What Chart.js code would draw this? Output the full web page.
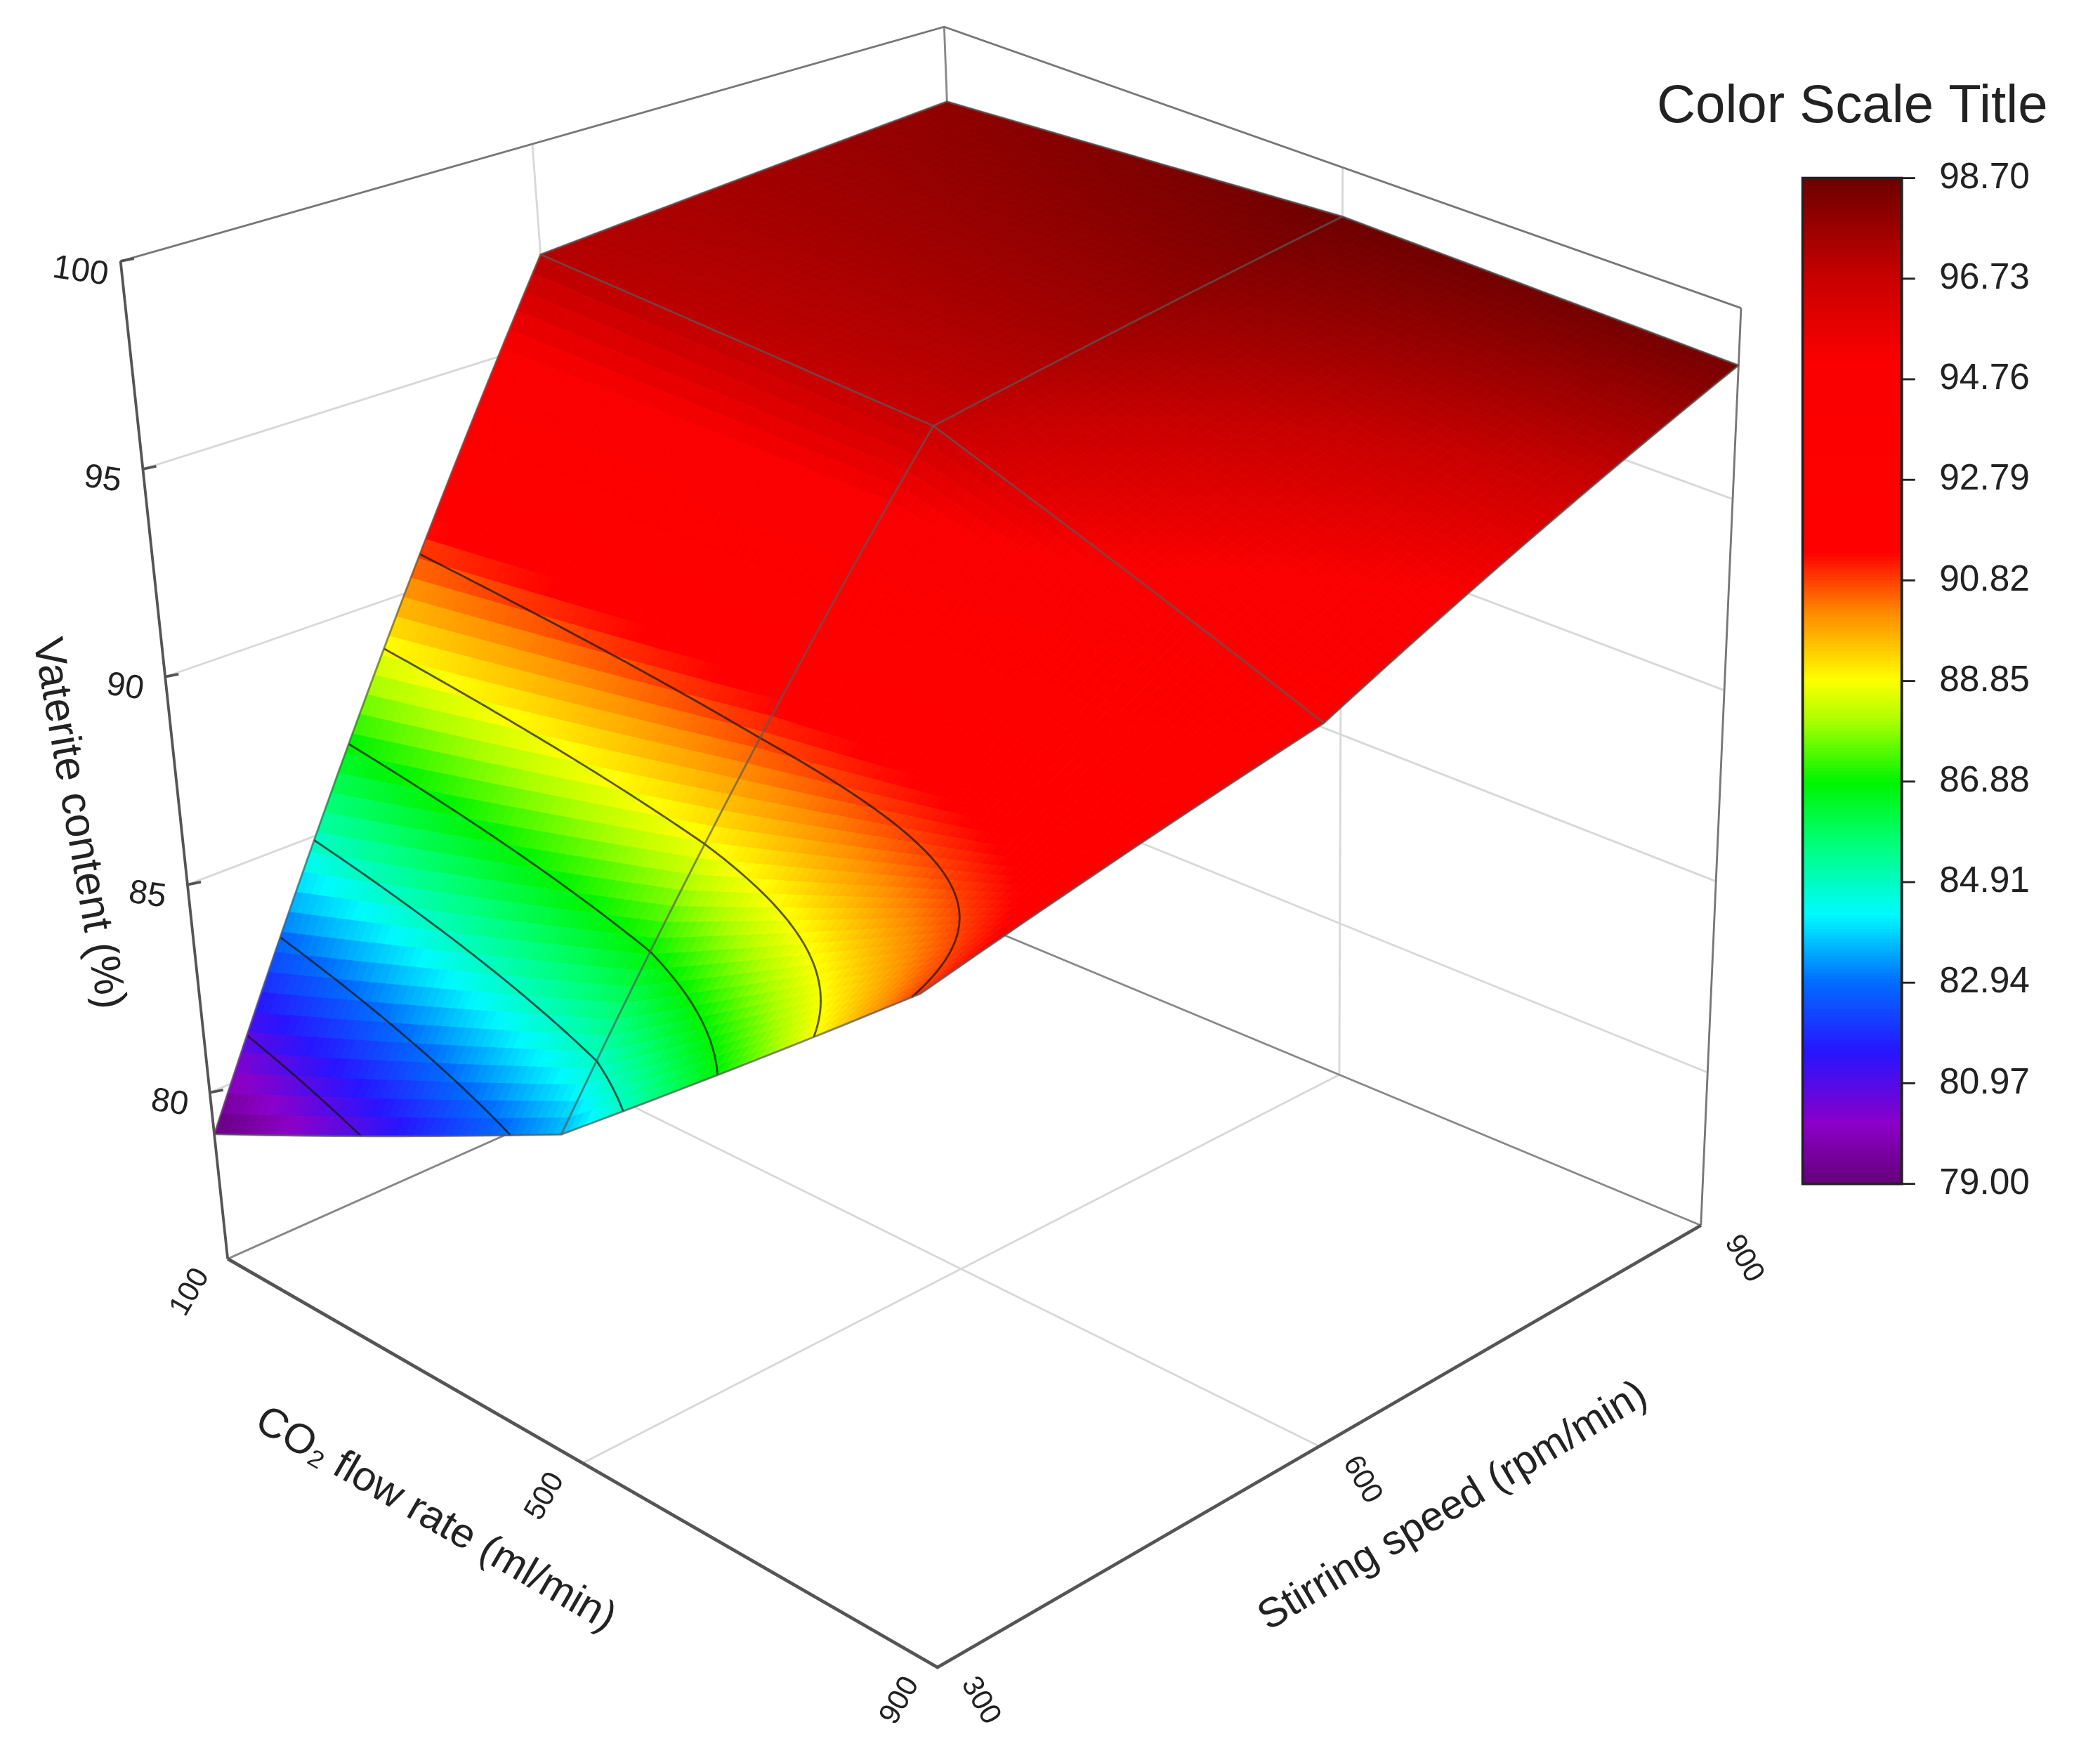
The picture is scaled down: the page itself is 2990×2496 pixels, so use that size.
<!DOCTYPE html>
<html><head><meta charset="utf-8">
<script src="https://cdn.jsdelivr.net/npm/chart.js@4"></script>
<style>html,body{margin:0;padding:0;background:#fff}#wrap{width:2990px;height:2496px}</style>
</head><body><div id="wrap"><canvas id="c" width="2990" height="2496"></canvas></div>
<script>
// ---- data ----
const co2Rates = [100, 500, 900];          // ml/min
const stirSpeeds = [300, 600, 900];        // rpm/min
const vaterite100 = [79.0, 97.2, 98.0];    // CO2=100 at stir 300,600,900
const vaterite500 = [83.6, 96.8, 98.7];
const vaterite900 = [91.0, 93.4, 98.5];
const zTicks = [80, 85, 90, 95, 100];
const cbarTicks = [98.70, 96.73, 94.76, 92.79, 90.82, 88.85, 86.88, 84.91, 82.94, 80.97, 79.00];
const contourLevels = [80.97, 82.94, 84.91, 86.88, 88.85, 90.82];

const grid = [vaterite100, vaterite500, vaterite900];
const ZMIN = 76, ZMAX = 100, CMIN = 79, CMAX = 98.7;
const F = {L:[170,940], B:[700,1245], R:[1270,915], K:[730,690]};
const T = {L:[90,195], B:[680,440], R:[1300,230], K:[705,20]};
function bil(Q,u,v){
  const a=Q.L,b=Q.B,c=Q.R,d=Q.K;
  return [ (1-u)*(1-v)*a[0]+u*(1-v)*b[0]+u*v*c[0]+(1-u)*v*d[0],
           (1-u)*(1-v)*a[1]+u*(1-v)*b[1]+u*v*c[1]+(1-u)*v*d[1] ];
}
function proj(u,v,z){ const f=bil(F,u,v), t=bil(T,u,v), s=(z-ZMIN)/(ZMAX-ZMIN);
  return [f[0]+(t[0]-f[0])*s, f[1]+(t[1]-f[1])*s]; }
function zAt(u,v){
  const gu=Math.min(u*2,1.999999), gv=Math.min(v*2,1.999999);
  const i=Math.floor(gu), j=Math.floor(gv), fu=gu-i, fv=gv-j;
  return grid[i][j]*(1-fu)*(1-fv)+grid[i+1][j]*fu*(1-fv)+grid[i][j+1]*(1-fu)*fv+grid[i+1][j+1]*fu*fv;
}
const stops=[[79,[100,0,120]],[80.2,[140,0,200]],[81.6,[40,20,255]],[83,[0,110,255]],[84.3,[0,250,255]],[85.7,[0,255,120]],[86.9,[0,245,0]],[88.1,[170,255,0]],[88.9,[255,255,0]],[90.2,[255,140,0]],[91.4,[255,0,0]],[95.2,[250,0,0]],[96.8,[200,0,0]],[98.7,[110,0,0]]];
function cmap(z){ if(z<=stops[0][0]) return stops[0][1];
  for(let k=1;k<stops.length;k++){ if(z<=stops[k][0]){const a=stops[k-1],b=stops[k],t=(z-a[0])/(b[0]-a[0]);
    return a[1].map((x,i)=>Math.round(x+(b[1][i]-x)*t));}}
  return stops[stops.length-1][1]; }
const rgb=c=>`rgb(${c[0]},${c[1]},${c[2]})`;

const plot3d={id:'plot3d',afterDraw(chart){
  const ctx=chart.ctx, sx=chart.scales.x, sy=chart.scales.y;
  const P=p=>[sx.getPixelForValue(p[0]), sy.getPixelForValue(p[1])];
  const k=chart.width/1568;
  const line=(pts,col,w)=>{ctx.beginPath();pts.forEach((p,i)=>{const q=P(p);i?ctx.lineTo(q[0],q[1]):ctx.moveTo(q[0],q[1]);});ctx.strokeStyle=col;ctx.lineWidth=w*k;ctx.stroke();};
  const txt=(s,p,rot,size,align)=>{const q=P(p);ctx.save();ctx.translate(q[0],q[1]);ctx.rotate(rot*Math.PI/180);ctx.font=`${size*k}px Arial, "Liberation Sans"`;ctx.fillStyle='#222';ctx.textAlign=align||'center';ctx.textBaseline='middle';ctx.fillText(s,0,0);ctx.restore();};
  const gcol='#d8d8d8';
  zTicks.slice(0,4).forEach(z=>{ line([proj(0,0,z),proj(0,1,z),proj(1,1,z)],gcol,1.5); });
  line([proj(0,0.5,ZMIN),proj(0,0.5,ZMAX)],gcol,1.5);
  line([proj(0.5,1,ZMIN),proj(0.5,1,ZMAX)],gcol,1.5);
  line([proj(0.5,0,ZMIN),proj(0.5,1,ZMIN)],gcol,1.5);
  line([proj(0,0.5,ZMIN),proj(1,0.5,ZMIN)],gcol,1.5);
  const bcol='#555';
  line([proj(0,0,ZMIN),proj(0,1,ZMIN),proj(1,1,ZMIN)],'#888',1.5);
  line([proj(0,1,ZMIN),proj(0,1,ZMAX)],'#888',1.5);
  line([proj(0,0,ZMAX),proj(0,1,ZMAX),proj(1,1,ZMAX)],'#777',1.5);
  line([proj(1,1,ZMIN),proj(1,1,ZMAX)],'#777',1.5);
  line([proj(0,0,ZMIN),proj(0,0,ZMAX)],bcol,2);
  line([proj(0,0,ZMIN),proj(1,0,ZMIN),proj(1,1,ZMIN)],bcol,2.5);
  zTicks.forEach(z=>{const p=proj(0,0,z); line([p,[p[0]+10,p[1]-2]],bcol,2);});
  const N=90, cells=[];
  for(let i=0;i<N;i++)for(let j=0;j<N;j++)cells.push([i,j,(N-1-i)+j]);
  cells.sort((a,b)=>b[2]-a[2]);
  const U=i=>i/N;
  const segs=[];
  cells.forEach(([i,j])=>{
    const c=[[U(i),U(j)],[U(i+1),U(j)],[U(i+1),U(j+1)],[U(i),U(j+1)]];
    const zs=c.map(p=>zAt(p[0],p[1]));
    const pts=c.map((p,n)=>P(proj(p[0],p[1],zs[n])));
    ctx.beginPath();pts.forEach((q,n)=>n?ctx.lineTo(q[0],q[1]):ctx.moveTo(q[0],q[1]));ctx.closePath();
    const col=rgb(cmap((zs[0]+zs[1]+zs[2]+zs[3])/4));
    ctx.fillStyle=col;ctx.fill();ctx.strokeStyle=col;ctx.lineWidth=1;ctx.stroke();
    contourLevels.forEach(L=>{
      const cr=[];
      for(let e=0;e<4;e++){const a=zs[e],b=zs[(e+1)%4];
        if((a-L)*(b-L)<0){const t=(L-a)/(b-a);const pa=c[e],pb=c[(e+1)%4];
          cr.push(proj(pa[0]+(pb[0]-pa[0])*t, pa[1]+(pb[1]-pa[1])*t, L));}}
      for(let m=0;m+1<cr.length;m+=2) segs.push([cr[m],cr[m+1]]);
    });
  });
  segs.forEach(s=>line(s,'rgba(20,20,20,0.7)',1.5));
  const mcol='rgba(90,90,90,0.7)';
  for(let a=0;a<=2;a++){
    const ptsU=[],ptsV=[];
    for(let s=0;s<=40;s++){const t=s/40; ptsU.push(proj(a/2,t,zAt(a/2,t))); ptsV.push(proj(t,a/2,zAt(t,a/2)));}
    line(ptsU,mcol,1.5); line(ptsV,mcol,1.5);
  }
  zTicks.forEach(z=>{const p=proj(0,0,z); txt(String(z),[p[0]-30,p[1]+8],8,25);});
  txt('Vaterite content (%)',[58,615],80,32);
  co2Rates.forEach((r,i)=>{const p=proj(i/2,0,ZMIN); txt(String(r),[p[0]-28,p[1]+25],-60,22);});
  txt('CO\u2082 flow rate (ml/min)',[325,1135],30,31);
  stirSpeeds.forEach((r,i)=>{const p=proj(1,i/2,ZMIN); txt(String(r),[p[0]+32,p[1]+25],60,22);});
  txt('Stirring speed (rpm/min)',[1085,1125],-31,31);
  const x0=1346,x1=1420,y0=133,y1=884;
  for(let s=0;s<300;s++){const z=CMAX-(CMAX-CMIN)*s/300;const a=P([x0,y0+(y1-y0)*s/300]),b=P([x1,y0+(y1-y0)*(s+1)/300]);
    ctx.fillStyle=rgb(cmap(z));ctx.fillRect(a[0],a[1],b[0]-a[0],b[1]-a[1]+1);}
  const a=P([x0,y0]),b=P([x1,y1]);ctx.strokeStyle='#222';ctx.lineWidth=2*k;ctx.strokeRect(a[0],a[1],b[0]-a[0],b[1]-a[1]);
  cbarTicks.forEach((t,i)=>{const y=y0+(y1-y0)*i/10; line([[x1,y],[x1+10,y]],'#222',1.5); txt(t.toFixed(2),[x1+28,y],0,27,'left');});
  txt('Color Scale Title',[1383,80],0,40);
}};
new Chart(document.getElementById('c'),{type:'scatter',data:{datasets:[{data:[]}]},
  options:{responsive:false,animation:false,devicePixelRatio:1,layout:{padding:0},
    plugins:{legend:{display:false},tooltip:{enabled:false}},
    scales:{x:{type:'linear',min:0,max:1568,display:false},y:{type:'linear',min:0,max:1309,reverse:true,display:false}}},
  plugins:[plot3d]});
</script></body></html>
